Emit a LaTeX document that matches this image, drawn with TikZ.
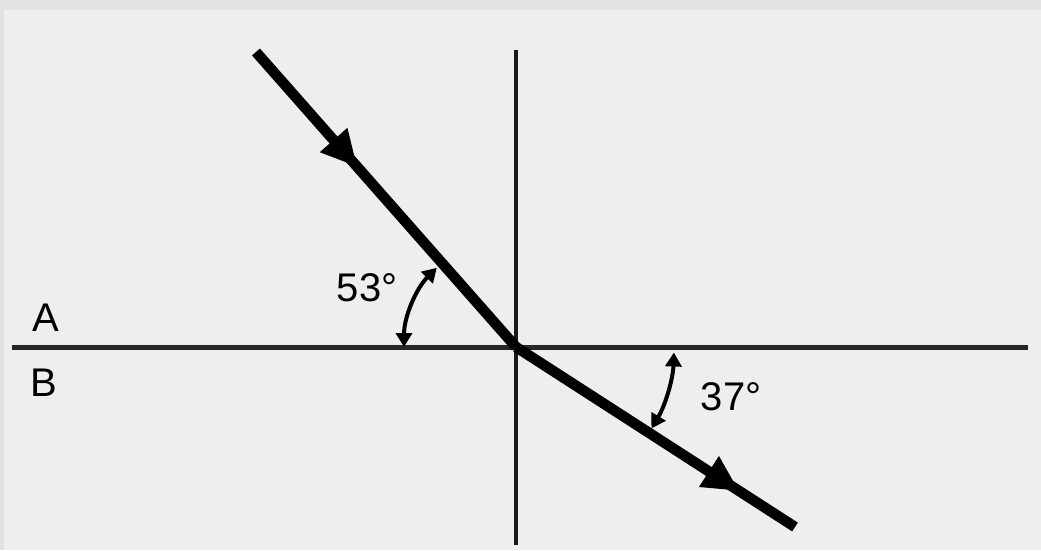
\documentclass[tikz,border=0pt]{standalone}
\usepackage{fontspec}
\setmainfont{Liberation Sans}
\usetikzlibrary{arrows.meta,decorations.markings}
\definecolor{bg}{HTML}{EEEEEE}
\definecolor{band}{HTML}{E2E2E2}
\tikzset{
  axis/.style={line width=5pt,black!85},
  vaxis/.style={line width=4pt,black!90},
  ray/.style={line width=10.5pt,black,
    postaction={decorate},
    decoration={markings,mark=at position #1 with {\arrow{Triangle[length=36pt,width=34pt]}}}},
  anglearc/.style={line width=4pt,black,{Triangle[length=14pt,width=16pt]}-{Triangle[length=14pt,width=16pt]}},
  lbl/.style={font=\fontsize{40}{48}\selectfont,inner sep=0pt}
}
\begin{document}
\begin{tikzpicture}[x=1pt,y=1pt]
\useasboundingbox (0,0) rectangle (1041,550);
\fill[bg] (0,0) rectangle (1041,550);
\fill[band] (0,540) rectangle (1041,550);
\fill[band] (0,0) rectangle (4,550);
% points
\coordinate (O) at (516,203);
\coordinate (HL) at (12,203);
\coordinate (HR) at (1028,203);
\coordinate (VT) at (516,500);
\coordinate (VB) at (516,5);
\coordinate (IN) at (256,498);
\coordinate (OUT) at (795,23);
% axes
\draw[axis] (HL) -- (HR);
\draw[vaxis] (VT) -- (VB);
% rays
\draw[ray=0.39] (IN) -- (O);
\draw[ray=0.80] (O) -- (OUT);
% angle arcs
\draw[anglearc] ([shift={(180:112)}]O) arc[start angle=180,end angle=135,radius=112];
\draw[anglearc] ([shift={(-2:158)}]O) arc[start angle=-2,end angle=-31,radius=158];
% labels
\node[lbl] (l53) at (367,262) {53°};
\node[lbl] (l37) at (731,153) {37°};
\node[lbl] (lA) at (46,232) {A};
\node[lbl] (lB) at (44,167) {B};
\end{tikzpicture}
\end{document}
